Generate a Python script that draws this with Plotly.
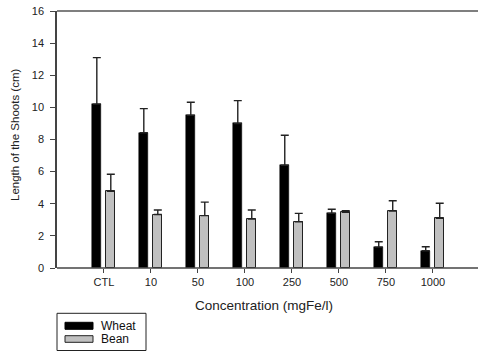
import plotly.graph_objects as go

categories = ["CTL", "10", "50", "100", "250", "500", "750", "1000"]
wheat = [10.2, 8.42, 9.5, 9.0, 6.4, 3.4, 1.3, 1.07]
wheat_err = [2.9, 1.5, 0.82, 1.42, 1.86, 0.26, 0.33, 0.25]
bean = [4.78, 3.33, 3.26, 3.04, 2.88, 3.46, 3.55, 3.1]
bean_err = [1.06, 0.28, 0.84, 0.57, 0.52, 0.1, 0.64, 0.93]
series_names = ["Wheat", "Bean"]

W, H = 478, 352
L, R, T, B = 57, 478, 11, 268

def px(x):
    return (x - L) / (R - L)

def py(y):
    return (B - y) / (B - T)

font = "Liberation Sans, Arial, sans-serif"

fig = go.Figure()
fig.add_trace(go.Bar(
    x=categories, y=wheat, name=series_names[0],
    offset=-0.25, width=0.195,
    marker=dict(color="#000000", line=dict(color="#000000", width=0.5)),
    error_y=dict(type="data", symmetric=False, array=wheat_err,
                 arrayminus=[0] * len(wheat), color="#222222",
                 thickness=1.4, width=4),
    showlegend=False,
))
fig.add_trace(go.Bar(
    x=categories, y=bean, name=series_names[1],
    offset=0.05, width=0.19,
    marker=dict(color="#c0c0c0", line=dict(color="#222222", width=1)),
    error_y=dict(type="data", symmetric=False, array=bean_err,
                 arrayminus=[0] * len(bean), color="#222222",
                 thickness=1.4, width=4),
    showlegend=False,
))

shapes = [
    # frame lines (bottom axis line and top border) spanning full plot width
    dict(type="line", xref="paper", yref="paper", x0=0, x1=1, y0=0, y1=0,
         line=dict(color="#444444", width=1.5), layer="above"),
    dict(type="line", xref="paper", yref="paper", x0=0, x1=1, y0=1, y1=1,
         line=dict(color="#555555", width=1.5), layer="above"),
    # legend box
    dict(type="rect", xref="paper", yref="paper",
         x0=px(57), x1=px(146), y0=py(313.3), y1=py(350.5),
         line=dict(color="#222222", width=1), fillcolor="rgba(0,0,0,0)"),
    dict(type="rect", xref="paper", yref="paper",
         x0=px(65), x1=px(93), y0=py(322.3), y1=py(329.3),
         line=dict(color="#000000", width=1), fillcolor="#000000"),
    dict(type="rect", xref="paper", yref="paper",
         x0=px(65), x1=px(93), y0=py(335.7), y1=py(342.3),
         line=dict(color="#222222", width=1), fillcolor="#c0c0c0"),
]
annotations = [
    dict(text=series_names[0], xref="paper", yref="paper", x=px(98.5), y=py(325.8),
         xanchor="left", yanchor="middle", showarrow=False,
         font=dict(family=font, size=12, color="#111111")),
    dict(text=series_names[1], xref="paper", yref="paper", x=px(98.5), y=py(339),
         xanchor="left", yanchor="middle", showarrow=False,
         font=dict(family=font, size=12, color="#111111")),
    dict(text="Concentration (mgFe/l)", xref="paper", yref="paper", x=px(264), y=py(305),
         xanchor="center", yanchor="middle", showarrow=False,
         font=dict(family=font, size=13.5, color="#222222")),
    dict(text="Length of the Shoots (cm)", xref="paper", yref="paper", x=px(15), y=py(135),
         xanchor="center", yanchor="middle", showarrow=False, textangle=-90,
         font=dict(family=font, size=11.5, color="#222222")),
]

fig.update_layout(
    width=W, height=H,
    margin=dict(l=L, r=W - R, t=T, b=H - B, pad=0),
    paper_bgcolor="white", plot_bgcolor="white",
    font=dict(family=font, size=10, color="#222222"),
    bargap=0, barmode="overlay",
    shapes=shapes, annotations=annotations,
    xaxis=dict(
        type="category", range=[-1, 7.96], automargin=False,
        showline=False,
        ticks="outside", ticklen=4, tickwidth=1, tickcolor="#444444",
        showgrid=False, zeroline=False,
        tickfont=dict(family=font, size=11, color="#222222"),
    ),
    yaxis=dict(
        range=[0, 16], tickvals=[0, 2, 4, 6, 8, 10, 12, 14, 16], automargin=False,
        showline=True, linecolor="#444444", linewidth=1.5,
        ticks="outside", ticklen=5, tickwidth=1, tickcolor="#444444",
        ticklabelstandoff=4,
        showgrid=False, zeroline=False,
        tickfont=dict(family=font, size=11, color="#222222"),
    ),
)

fig.write_html(
    "out.html", config={"displayModeBar": False},
    post_script=("document.documentElement.style.margin='0';"
                 "document.documentElement.style.overflow='hidden';"
                 "document.body.style.margin='0';"
                 "document.body.style.overflow='hidden';"),
)
